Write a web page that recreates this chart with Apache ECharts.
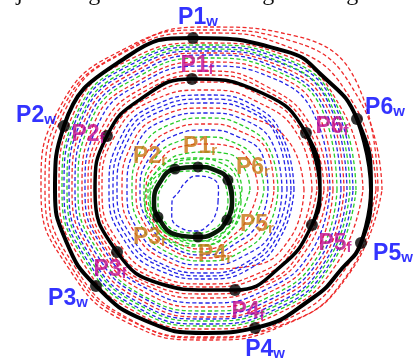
<!DOCTYPE html>
<html>
<head>
<meta charset="utf-8">
<script src="https://cdn.jsdelivr.net/npm/echarts@6/dist/echarts.min.js"></script>
<style>
  html, body { margin: 0; padding: 0; background: #fff; }
  #chart { width: 417px; height: 364px; }
</style>
</head>
<body>
<div id="chart"></div>
<script>
// Sampling angles (degrees, counter-clockwise from east) for the dashed trajectories
const ANGLES = [0, 30, 60, 90, 120, 150, 180, 210, 240, 270, 300, 330];

// Outer body trajectories (radius per angle), grouped by colour
const redOuter = [
  [170, 171, 165, 157, 160, 162, 157, 152, 150, 148, 152, 160],
  [176, 178, 172, 160, 163, 168, 165, 158, 154, 150, 156, 166],
  [172, 182, 178, 163, 161, 165, 161, 155, 151, 147, 155, 165],
  [157, 158, 156, 147, 151, 153, 147, 143, 141, 139, 143, 150],
  [138, 145, 144, 137, 138, 140, 134, 130, 128, 127, 130, 136],
  [127, 134, 134, 128, 128, 130, 124, 121, 119, 117, 120, 126],
  [122, 123, 120, 119, 120, 121, 118, 116, 112, 108, 112, 117],
  [118, 119, 116, 115, 116, 117, 115, 113, 109, 104, 109, 113],
  [111, 112, 109, 108, 109, 110, 107, 106, 102, 97, 102, 106],
  [106, 107, 102, 100, 104, 106, 104, 102, 98, 94, 98, 103],
  [98, 96, 85, 82, 86, 87, 84, 83, 81, 79, 88, 97],
  [68, 72, 68, 66, 69, 70, 70, 70, 69, 68, 66, 67],
  [52, 52, 50, 46, 50, 55, 60, 61, 60, 59, 53, 50]
];
const blueOuter = [
  [147, 153, 151, 143, 146, 148, 142, 138, 136, 134, 138, 144],
  [141, 148, 147, 139, 141, 143, 137, 133, 131, 129, 133, 139],
  [135, 142, 141, 135, 135, 137, 131, 127, 125, 124, 127, 133],
  [124, 130, 130, 124, 125, 126, 121, 118, 115, 113, 116, 122],
  [88, 92, 97, 95, 99, 100, 97, 96, 93, 89, 90, 88],
  [85, 89, 93, 91, 95, 96, 93, 92, 89, 86, 86, 85],
  [81, 86, 90, 87, 91, 92, 89, 88, 86, 83, 83, 81],
  [76, 80, 80, 77, 81, 82, 79, 79, 77, 75, 76, 78],
  [62, 66, 62, 60, 63, 65, 66, 66, 66, 65, 61, 62]
];
const greenOuter = [
  [150, 155, 153, 145, 148, 150, 144, 140, 138, 136, 140, 146],
  [144, 150, 148, 141, 143, 145, 139, 135, 133, 131, 135, 141],
  [131, 139, 138, 132, 132, 134, 128, 124, 123, 121, 124, 130],
  [72, 75, 74, 72, 75, 76, 74, 74, 73, 71, 71, 72],
  [58, 58, 55, 53, 56, 60, 62, 63, 63, 62, 57, 56],
  [44, 44, 42, 38, 42, 49, 58, 59, 57, 55, 48, 42],
  [36, 36, 35, 31, 35, 44, 56, 58, 55, 51, 44, 36]
];
// Trajectories around the inner (r) loop
const greenInner = [
  [40, 42, 41, 39, 43, 45, 46, 44, 41, 39, 40, 40],
  [45, 47, 46, 44, 48, 50, 51, 49, 46, 44, 45, 45],
  [32, 34, 33, 31, 35, 37, 38, 37, 34, 31, 32, 32]
];
const blueInner = [
  [22, 26, 28, 26, 22, 20, 24, 28, 30, 29, 26, 23]
];

// Mean trajectories as [radius, angle]; marker indices give P1..P6
const wCurve = [[165, 0], [166.9, 25.2], [163, 45], [160, 60], [152.6, 94.9], [155, 120], [155.8, 155.7],
  [151, 180], [149, 200], [146, 221.1], [144, 245], [143, 270], [146.4, 289.6], [152, 315], [157, 330], [163.8, 341.1]];
const wMarks = [4, 6, 9, 12, 15, 1];
const fCurve = [[114, 0], [115.1, 29.7], [112, 60], [111.9, 97.2], [112, 125], [112.8, 151.4], [111, 180],
  [108.5, 214.9], [104, 245], [100, 270], [104.1, 286.2], [107, 315], [111.6, 341.7]];
const fMarks = [3, 5, 7, 10, 12, 1];
const rCurve = [[36, 0], [38.8, 34.5], [37, 60], [35.1, 86.7], [39.1, 122.5], [41, 150], [42, 180],
  [40.9, 201.5], [38, 240], [35.1, 273.3], [36, 300], [35.8, 329.9]];
const rMarks = [3, 4, 7, 9, 11, 1];

// Label placement relative to each marker
const wOffsets = [[5, -22], [-28, -12], [-28, 11], [10, 20], [32, 9], [28, -13]];
const fOffsets = [[5, -15], [-19, -3], [-7, 16], [13, 20], [23, 17], [26, -8]];
const rOffsets = [[2, -22], [-25, -14], [-8, 19], [17, 16], [30, 3], [25, -14]];

const RED = '#ee2a2a', BLUE = '#2424e6', GREEN = '#28cc28';

function ringData(radii) {
  return radii.map((r, i) => [r, ANGLES[i]]).concat([[radii[0], 360]]);
}
function loopData(pts) {
  const n = pts.length;
  return [[pts[n - 1][0], pts[n - 1][1] - 360]].concat(pts,
    [[pts[0][0], pts[0][1] + 360], [pts[1][0], pts[1][1] + 360]]);
}
function ringSeries(radii, color, polarIndex) {
  return {
    type: 'line', coordinateSystem: 'polar', polarIndex: polarIndex,
    data: ringData(radii), smooth: true, symbol: 'none', clip: false, silent: true,
    lineStyle: { color: color, width: 1.3, type: [4, 2.5] }, z: 1
  };
}
function curveSeries(pts, width, color, polarIndex) {
  return {
    type: 'line', coordinateSystem: 'polar', polarIndex: polarIndex,
    data: loopData(pts), smooth: true, symbol: 'none', clip: false, silent: true,
    lineStyle: { color: color, width: width }, z: 3
  };
}
function markerSeries(pts, marks, offsets, sub, color, size, polarIndex) {
  return {
    type: 'scatter', coordinateSystem: 'polar', polarIndex: polarIndex,
    symbolSize: size, itemStyle: { color: '#000' }, z: 5, silent: true,
    data: marks.map((idx, k) => ({
      value: pts[idx],
      label: { offset: offsets[k], formatter: '{m|P' + (k + 1) + '}{s|' + sub + '}' }
    })),
    label: {
      show: true, position: 'inside', align: 'center', verticalAlign: 'middle',
      rich: {
        m: { fontFamily: '"Liberation Sans"', fontWeight: 'bold', fontSize: 23, lineHeight: 26, color: color, verticalAlign: 'bottom' },
        s: { fontFamily: '"Liberation Sans"', fontWeight: 'bold', fontSize: 15, lineHeight: 16, color: color, verticalAlign: 'bottom' }
      }
    }
  };
}

const series = [];
redOuter.forEach(r => series.push(ringSeries(r, RED, 0)));
blueOuter.forEach(r => series.push(ringSeries(r, BLUE, 0)));
greenOuter.forEach(r => series.push(ringSeries(r, GREEN, 0)));
greenInner.forEach(r => series.push(ringSeries(r, GREEN, 1)));
blueInner.forEach(r => series.push(ringSeries(r, BLUE, 1)));
series.push(curveSeries(wCurve, 4, '#000', 0));
series.push(curveSeries(fCurve, 3.5, '#000', 0));
series.push(curveSeries(rCurve, 4.5, '#081808', 1));
series.push(markerSeries(wCurve, wMarks, wOffsets, 'w', '#0000ff', 12, 0));
series.push(markerSeries(fCurve, fMarks, fOffsets, 'f', '#c0088c', 12, 0));
series.push(markerSeries(rCurve, rMarks, rOffsets, 'r', '#c87412', 11, 1));

const hiddenAngle = { type: 'value', min: 0, max: 360, startAngle: 0, clockwise: false,
  axisLine: { show: false }, axisTick: { show: false }, axisLabel: { show: false }, splitLine: { show: false } };
const hiddenRadius = { type: 'value', min: 0, max: 200,
  axisLine: { show: false }, axisTick: { show: false }, axisLabel: { show: false }, splitLine: { show: false } };

const chart = echarts.init(document.getElementById('chart'), null, { renderer: 'canvas' });
chart.setOption({
  animation: false,
  backgroundColor: '#ffffff',
  polar: [
    { center: [206, 190], radius: 200 },
    { center: [196, 202], radius: 200 }
  ],
  angleAxis: [
    Object.assign({ polarIndex: 0 }, hiddenAngle),
    Object.assign({ polarIndex: 1 }, hiddenAngle)
  ],
  radiusAxis: [
    Object.assign({ polarIndex: 0 }, hiddenRadius),
    Object.assign({ polarIndex: 1 }, hiddenRadius)
  ],
  graphic: [{
    type: 'text', x: 1, y: -6, z: 10,
    style: { text: 's joint is given for the swing  kicking', font: '24px "Liberation Serif"',
      fill: '#111', verticalAlign: 'middle' }
  }],
  series: series
});
</script>
</body>
</html>
